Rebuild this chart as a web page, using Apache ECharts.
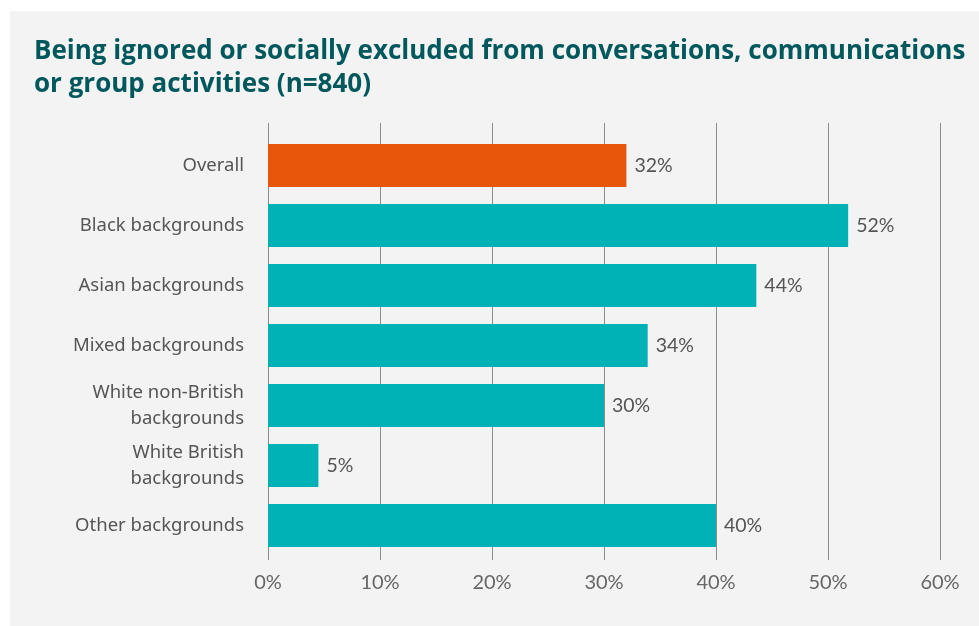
<!DOCTYPE html>
<html>
<head>
<meta charset="utf-8">
<script src="https://cdn.jsdelivr.net/npm/echarts@6/dist/echarts.min.js"></script>
<style>
html,body{margin:0;padding:0;background:#ffffff;}
#panel{position:absolute;left:10px;top:11px;width:969px;height:615px;background:#f3f3f3;}
#chart{position:absolute;left:0;top:0;width:979px;height:626px;}
</style>
</head>
<body>
<div id="panel"></div>
<div id="chart"></div>
<script>
const titleText = 'Being ignored or socially excluded from conversations, communications\nor group activities (n=840)';
const categories = ['Overall', 'Black backgrounds', 'Asian backgrounds', 'Mixed backgrounds',
  'White non-British\nbackgrounds', 'White British\nbackgrounds', 'Other backgrounds'];
const values = [32, 51.8, 43.6, 33.9, 30, 4.5, 40];
const labels = ['32%', '52%', '44%', '34%', '30%', '5%', '40%'];
const barColors = ['#e8560c', '#00b2b5', '#00b2b5', '#00b2b5', '#00b2b5', '#00b2b5', '#00b2b5'];
const tickMin = 0, tickMax = 60, tickStep = 10;

const chart = echarts.init(document.getElementById('chart'), null, {renderer: 'canvas'});
chart.setOption({
  backgroundColor: 'transparent',
  animation: false,
  title: {
    text: titleText,
    left: 29, top: 30,
    textStyle: {fontFamily: 'Open Sans', fontWeight: 'bold', fontSize: 26, color: '#00585c', lineHeight: 33}
  },
  grid: [
    {left: 268, right: 39, top: 123, bottom: 66},
    {left: 268, right: 39, top: 135.5, height: 420}
  ],
  xAxis: [
    {gridIndex: 0, type: 'value', min: tickMin, max: tickMax, interval: tickStep,
      axisLine: {show: false}, axisTick: {show: false},
      splitLine: {show: true, lineStyle: {color: '#8c8c8c', width: 1}},
      axisLabel: {formatter: '{value}%', color: '#666666', fontFamily: 'Lato', fontSize: 20, margin: 13}},
    {gridIndex: 1, type: 'value', min: tickMin, max: tickMax, show: false}
  ],
  yAxis: [
    {gridIndex: 0, type: 'value', show: false},
    {gridIndex: 1, type: 'category', inverse: true, data: categories,
      axisLine: {show: false}, axisTick: {show: false},
      axisLabel: {color: '#555555', fontFamily: 'Noto Sans', fontSize: 18.5, margin: 24, lineHeight: 26, align: 'right', padding: [5, 0, 0, 0]}}
  ],
  series: [
    {type: 'scatter', xAxisIndex: 0, yAxisIndex: 0, data: [], silent: true},
    {type: 'bar', xAxisIndex: 1, yAxisIndex: 1, barWidth: 43,
      data: values.map((v, i) => ({value: v, itemStyle: {color: barColors[i]}})),
      label: {show: true, position: 'right', distance: 8, color: '#555555', fontFamily: 'Lato', fontSize: 19.5,
        formatter: p => labels[p.dataIndex]}}
  ]
});
</script>
</body>
</html>
